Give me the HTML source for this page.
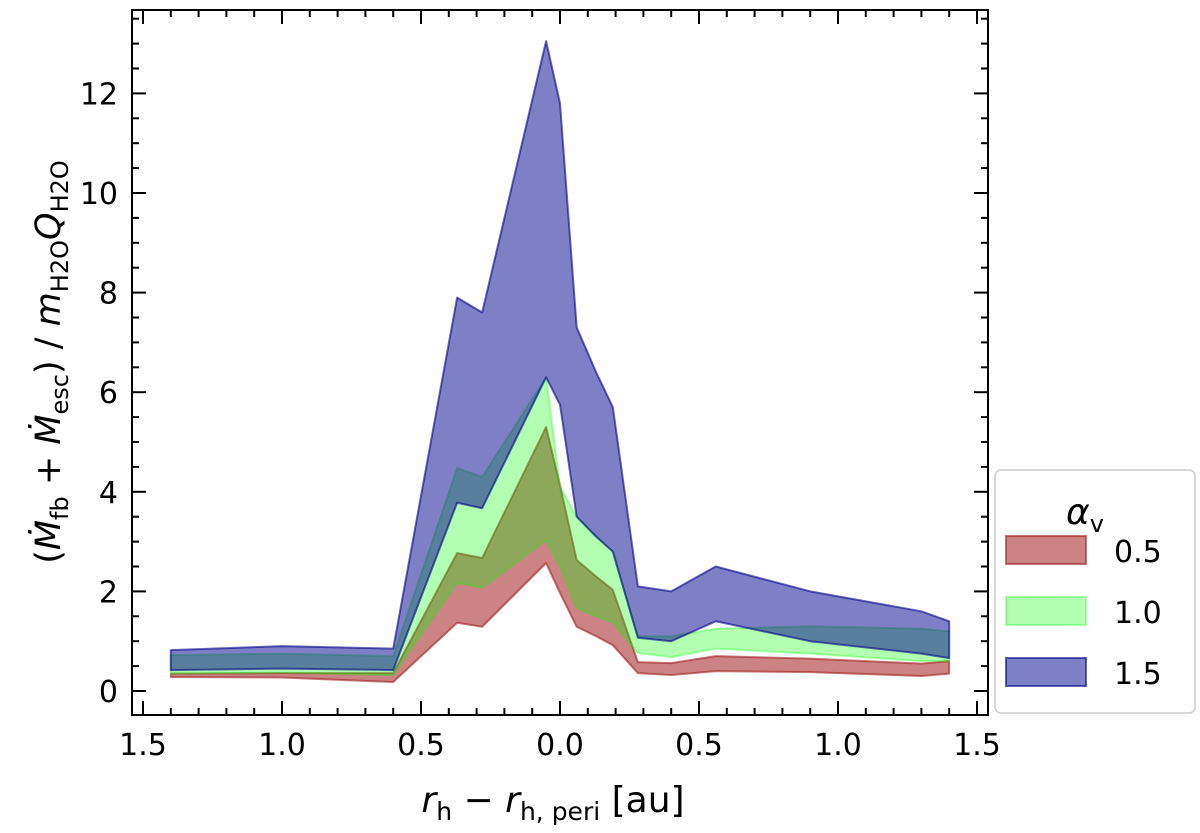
<!DOCTYPE html>
<html><head><meta charset="utf-8"><style>
body{margin:0;background:#fff;}
svg{font-family:"DejaVu Sans","Liberation Sans",sans-serif;}
</style></head><body>
<svg id="chart" width="1200" height="828" viewBox="0 0 1200 828" xmlns="http://www.w3.org/2000/svg">
<g id="bands"></g>
<g id="axes"></g>
<text transform="translate(60,362) rotate(-90)" text-anchor="middle" font-size="35">(<tspan font-style="italic">Ṁ</tspan><tspan font-size="24" dy="8">fb</tspan><tspan dy="-8"> + </tspan><tspan font-style="italic">Ṁ</tspan><tspan font-size="24" dy="8">esc</tspan><tspan dy="-8">) / </tspan><tspan font-style="italic">m</tspan><tspan font-size="24" dy="8">H2O</tspan><tspan font-style="italic" dy="-8">Q</tspan><tspan font-size="24" dy="8">H2O</tspan></text>
<text x="553" y="812" text-anchor="middle" font-size="36"><tspan font-style="italic">r</tspan><tspan font-size="25" dy="8">h</tspan><tspan dy="-8"> − </tspan><tspan font-style="italic">r</tspan><tspan font-size="25" dy="8">h, peri</tspan><tspan dy="-8"> [au]</tspan></text>
<g>
<rect x="995" y="470" width="200" height="243" rx="6" fill="#fff" stroke="#ccc" stroke-width="1.5"/>
<text x="1085" y="524" text-anchor="middle" font-size="36" font-style="italic">α<tspan font-size="24" font-style="normal" dy="8">v</tspan></text>
<rect x="1006" y="536" width="80" height="28" fill="rgb(160,30,30)" fill-opacity="0.55" stroke="rgb(160,30,30)" stroke-opacity="0.6" stroke-width="2"/>
<text x="1114" y="562" font-size="30">0.5</text>
<rect x="1006" y="597" width="80" height="28" fill="rgb(0,255,0)" fill-opacity="0.3" stroke="rgb(0,255,0)" stroke-opacity="0.3" stroke-width="2"/>
<text x="1114" y="623" font-size="30">1.0</text>
<rect x="1006" y="658" width="80" height="28" fill="rgb(0,0,139)" fill-opacity="0.5" stroke="rgb(0,0,139)" stroke-opacity="0.6" stroke-width="2"/>
<text x="1114" y="684" font-size="30">1.5</text>
</g>
</svg>
<script>
const xs = [-1.4,-1.0,-0.6,-0.37,-0.28,-0.05,0.0,0.06,0.13,0.19,0.28,0.4,0.56,0.9,1.3,1.4];
const redHi = [0.35,0.36,0.36,2.77,2.67,5.3,4.13,2.63,2.3,2.03,0.58,0.56,0.7,0.65,0.55,0.6];
const redLo = [0.28,0.27,0.18,1.37,1.29,2.57,1.97,1.29,1.1,0.92,0.36,0.32,0.4,0.38,0.3,0.35];
const greenHi = [0.72,0.75,0.7,4.48,4.3,6.3,4.1,3.5,3.1,2.8,1.1,1.1,1.25,1.3,1.25,1.2];
const greenLo = [0.35,0.37,0.32,2.17,2.07,3.03,2.5,1.67,1.5,1.38,0.76,0.68,0.85,0.75,0.6,0.6];
const blueHi = [0.82,0.9,0.85,7.9,7.6,13.05,11.8,7.3,6.4,5.7,2.1,2.0,2.5,2.0,1.6,1.4];
const blueLo = [0.42,0.45,0.42,3.78,3.67,6.3,5.75,3.5,3.1,2.8,1.07,1.0,1.4,1.0,0.75,0.66];
const xTicks = [-1.5,-1.0,-0.5,0,0.5,1.0,1.5];
const xTickLabels = ["1.5","1.0","0.5","0.0","0.5","1.0","1.5"];
const yTicks = [0,2,4,6,8,10,12];

const L=132,R=988,T=10,B=715;
const X=v=>560+v*278;
const Y=v=>691-v*49.8;
const NS="http://www.w3.org/2000/svg";
const bands=document.getElementById('bands'), axes=document.getElementById('axes');
function band(lo,hi,col,fo,so,name){
  let pts=xs.map((x,i)=>X(x)+','+Y(hi[i]));
  for(let i=xs.length-1;i>=0;i--)pts.push(X(xs[i])+','+Y(lo[i]));
  const p=document.createElementNS(NS,'polygon');
  p.setAttribute('points',pts.join(' '));
  p.setAttribute('fill',col);p.setAttribute('fill-opacity',fo);
  p.setAttribute('stroke',col);p.setAttribute('stroke-opacity',so);p.setAttribute('stroke-width','2');
  p.setAttribute('stroke-linejoin','round');
  
  
  bands.appendChild(p);
}
band(redLo,redHi,'rgb(160,30,30)',0.55,0.6,'band-alpha-0.5');
band(greenLo,greenHi,'rgb(0,255,0)',0.3,0.3,'band-alpha-1.0');
band(blueLo,blueHi,'rgb(0,0,139)',0.5,0.6,'band-alpha-1.5');
function line(x1,y1,x2,y2){const l=document.createElementNS(NS,'line');
 l.setAttribute('x1',x1);l.setAttribute('y1',y1);l.setAttribute('x2',x2);l.setAttribute('y2',y2);
 l.setAttribute('stroke','#000');l.setAttribute('stroke-width','2');axes.appendChild(l);}
function text(x,y,s,anchor,name){const t=document.createElementNS(NS,'text');
 t.setAttribute('x',x);t.setAttribute('y',y);t.setAttribute('text-anchor',anchor);t.setAttribute('font-size','30');
 t.textContent=s;
 
 
 axes.appendChild(t);}
const frame=document.createElementNS(NS,'rect');
frame.setAttribute('x',L);frame.setAttribute('y',T);frame.setAttribute('width',R-L);frame.setAttribute('height',B-T);
frame.setAttribute('fill','none');frame.setAttribute('stroke','#000');frame.setAttribute('stroke-width','2');


axes.appendChild(frame);
for(let k=-15;k<=15;k++){const x=X(k/10);const maj=k%5===0;const len=maj?14:7;
 line(x,B,x,B-len);line(x,T,x,T+len);}
xTicks.forEach((v,i)=>text(X(v),B+40,xTickLabels[i],'middle','x-tick-label'));
for(let k=0;k<=27;k++){const v=k*0.5;const y=Y(v);if(y<T)continue;const maj=k%4===0;const len=maj?14:7;
 line(L,y,L+len,y);line(R,y,R-len,y);}
yTicks.forEach(v=>text(L-14,Y(v)+11,String(v),'end','y-tick-label'));
</script>
</body></html>
